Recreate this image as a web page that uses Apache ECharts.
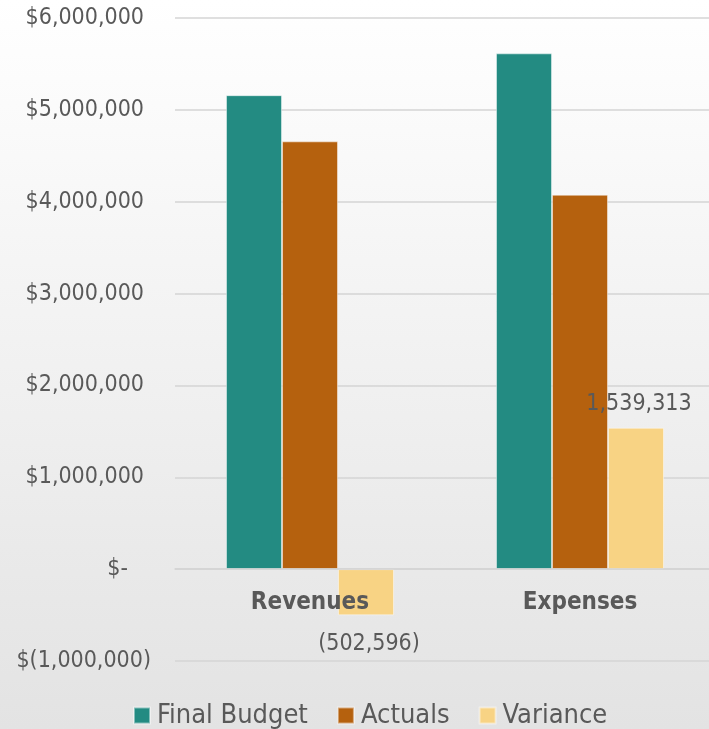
<!DOCTYPE html>
<html>
<head>
<meta charset="utf-8">
<script src="https://cdn.jsdelivr.net/npm/echarts@6/dist/echarts.min.js"></script>
<style>
  html, body { margin: 0; padding: 0; }
  #chart { width: 709px; height: 729px; }
</style>
</head>
<body>
<div id="chart"></div>
<script>
// Budget vs actuals summary
const categories = ['Revenues', 'Expenses'];
const finalBudget = [5159596, 5615000];
const actuals = [4657000, 4075687];
const variance = [-502596, 1539313];
const seriesNames = ['Final Budget', 'Actuals', 'Variance'];
const colors = ['#238b82', '#b5610e', '#f8d384'];

const FONT = "'DejaVu Sans Condensed', 'Open Sans', sans-serif";
const TEXT = '#595959';
const Y_MIN = -1000000, Y_MAX = 6000000;
const GRID_TOP = 18, GRID_BOTTOM = 68, CHART_H = 729;

function fmtAxis(v) {
  if (v === 0) return '{z|$-}';
  const s = Math.abs(v).toLocaleString('en-US');
  return v < 0 ? '{n|$(' + s + ')}' : '{p|$' + s + '}';
}
function fmtLabel(v) {
  const s = Math.abs(v).toLocaleString('en-US');
  return v < 0 ? '(' + s + ')' : s;
}

// category axis sits on the zero line
const plotH = CHART_H - GRID_TOP - GRID_BOTTOM;
const zeroOffset = -plotH * (0 - Y_MIN) / (Y_MAX - Y_MIN);

const chart = echarts.init(document.getElementById('chart'));
chart.setOption({
  backgroundColor: {
    type: 'linear', x: 0, y: 0, x2: 0, y2: 1,
    colorStops: [{ offset: 0, color: '#ffffff' }, { offset: 1, color: '#e3e3e3' }]
  },
  textStyle: { fontFamily: FONT },
  grid: { left: 175, width: 540, top: GRID_TOP, bottom: GRID_BOTTOM, outerBoundsMode: 'none' },
  legend: {
    data: seriesNames,
    top: 697,
    left: 128,
    itemWidth: 16,
    itemHeight: 16,
    itemGap: 29,
    icon: 'rect',
    textStyle: { fontFamily: FONT, fontSize: 27, color: TEXT, padding: [0, 0, 0, 2] }
  },
  xAxis: {
    type: 'category',
    data: categories,
    position: 'bottom',
    offset: zeroOffset,
    z: 10,
    axisLine: { onZero: false, lineStyle: { color: '#d4d4d4', width: 1.5 } },
    axisTick: { show: false },
    axisLabel: { margin: 22, fontFamily: FONT, fontSize: 24, fontWeight: 'bold', color: TEXT }
  },
  yAxis: {
    type: 'value',
    min: Y_MIN,
    max: Y_MAX,
    interval: 1000000,
    axisLine: { show: false },
    axisTick: { show: false },
    splitLine: { lineStyle: { color: '#d4d4d4', width: 1.5 } },
    axisLabel: {
      margin: 24,
      formatter: fmtAxis,
      rich: {
        p: { fontFamily: FONT, fontSize: 23, color: TEXT, padding: [0, 7, 0, 0] },
        n: { fontFamily: FONT, fontSize: 23, color: TEXT },
        z: { fontFamily: FONT, fontSize: 23, color: TEXT, padding: [0, 23, 0, 0] }
      }
    }
  },
  series: [
    {
      name: seriesNames[0], type: 'bar', data: finalBudget,
      barGap: '0%', barWidth: 56,
      itemStyle: { color: colors[0], borderColor: 'rgba(255,255,255,0.45)', borderWidth: 1 }
    },
    {
      name: seriesNames[1], type: 'bar', data: actuals, barWidth: 56,
      itemStyle: { color: colors[1], borderColor: 'rgba(255,255,255,0.45)', borderWidth: 1 }
    },
    {
      name: seriesNames[2], type: 'bar', barWidth: 56,
      data: variance.map(v => ({
        value: v,
        label: { position: v < 0 ? 'bottom' : 'top', distance: v < 0 ? 17 : 12 }
      })),
      itemStyle: { color: colors[2], borderColor: 'rgba(255,255,255,0.45)', borderWidth: 1 },
      label: {
        show: true,
        padding: [0, 0, 0, 6],
        fontFamily: FONT, fontSize: 23, color: TEXT,
        formatter: p => fmtLabel(p.value)
      }
    }
  ]
});
</script>
</body>
</html>
